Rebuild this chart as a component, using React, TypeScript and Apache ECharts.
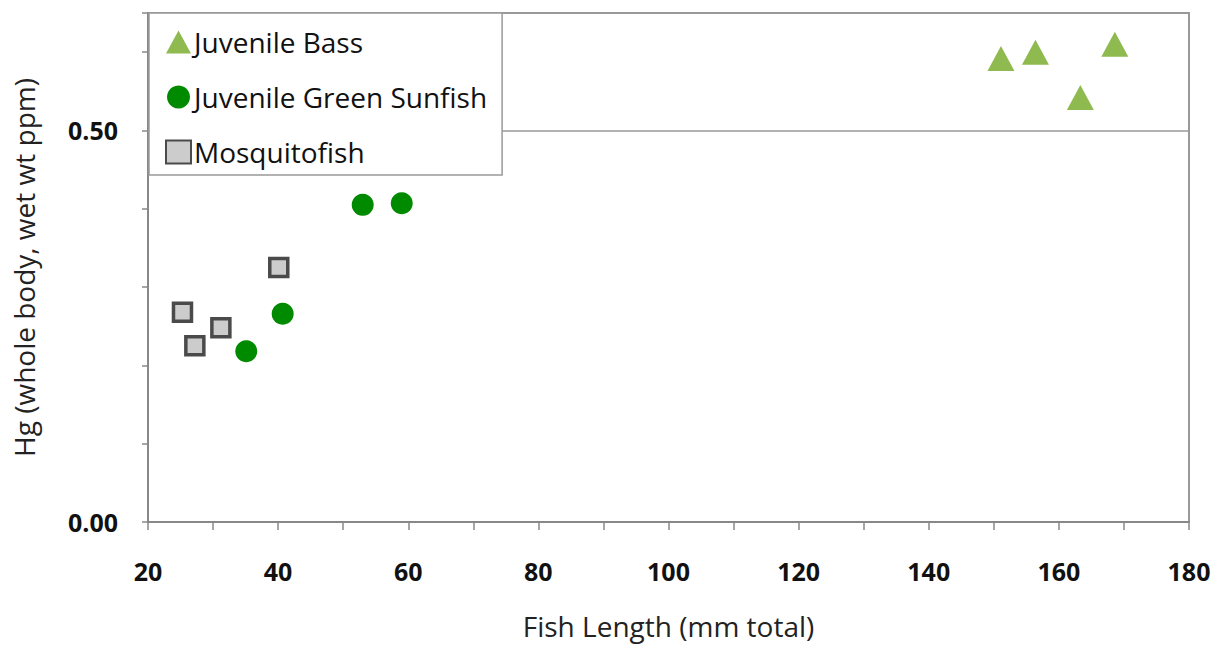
import React, { useEffect, useRef } from "react";
import * as echarts from "echarts";

// Fish length (mm total) and whole-body Hg (wet wt ppm) per specimen
const bassLength = [151.1, 156.4, 163.3, 168.6];
const bassHg = [0.592, 0.6, 0.542, 0.61];

const sunfishLength = [53.0, 59.0, 40.7, 35.1];
const sunfishHg = [0.405, 0.407, 0.266, 0.218];

const mosquitoLength = [25.3, 27.2, 31.2, 40.1];
const mosquitoHg = [0.268, 0.225, 0.248, 0.325];

const seriesNames = ["Juvenile Bass", "Juvenile Green Sunfish", "Mosquitofish"];
const yLabelTicks = [0, 0.5];
const xLabelStep = 20;

const FONT = "'Open Sans', 'Liberation Sans', sans-serif";

const pairs = (xs: number[], ys: number[]) => xs.map((x, i) => [x, ys[i]]);

export default function App() {
  const ref = useRef<HTMLDivElement>(null);

  useEffect(() => {
    if (!ref.current) return;
    const chart = echarts.init(ref.current, undefined, { renderer: "svg" });
    chart.setOption({
      animation: false,
      backgroundColor: "#ffffff",
      textStyle: { fontFamily: FONT },
      grid: {
        left: 148,
        right: 41,
        top: 13,
        bottom: 123,
        show: true,
        borderColor: "#999999",
        borderWidth: 2,
        backgroundColor: "transparent",
      },
      legend: {
        orient: "vertical",
        left: 149,
        top: 13,
        data: [
          { name: seriesNames[0], icon: "triangle" },
          { name: seriesNames[1], icon: "circle" },
          { name: seriesNames[2], icon: "rect" },
        ],
        itemWidth: 25,
        itemHeight: 23,
        itemGap: 25,
        padding: [14, 15, 8, 16],
        backgroundColor: "#ffffff",
        borderColor: "#999999",
        borderWidth: 1.5,
        textStyle: {
          fontSize: 28,
          lineHeight: 30,
          color: "#111111",
          fontFamily: FONT,
          padding: [0, 0, 0, -2],
        },
        z: 10,
      },
      xAxis: {
        type: "value",
        min: 20,
        max: 180,
        interval: 10,
        name: "Fish Length (mm total)",
        nameLocation: "middle",
        nameGap: 90,
        nameTextStyle: { fontSize: 28, color: "#222222", fontFamily: FONT },
        axisLine: { show: true, lineStyle: { color: "#888888", width: 2 } },
        axisTick: { show: true, length: 8, lineStyle: { color: "#888888", width: 1.5 } },
        splitLine: { show: false },
        axisLabel: {
          margin: 36,
          fontSize: 25,
          fontWeight: "bold",
          color: "#111111",
          fontFamily: FONT,
          formatter: (v: number) => (Math.abs(v % xLabelStep) < 1e-9 ? String(v) : ""),
        },
      },
      yAxis: {
        type: "value",
        min: 0,
        max: 0.65,
        interval: 0.1,
        name: "Hg (whole body, wet wt ppm)",
        nameLocation: "middle",
        nameGap: 110,
        nameTextStyle: { fontSize: 28, color: "#222222", fontFamily: FONT },
        axisLine: { show: true, lineStyle: { color: "#888888", width: 2 } },
        axisTick: { show: true, length: 6, lineStyle: { color: "#888888", width: 1.5 } },
        splitLine: { show: false },
        axisLabel: {
          margin: 30,
          fontSize: 25,
          fontWeight: "bold",
          color: "#111111",
          fontFamily: FONT,
          formatter: (v: number) =>
            yLabelTicks.some((t) => Math.abs(t - v) < 1e-9) ? v.toFixed(2) : "",
        },
      },
      series: [
        {
          name: seriesNames[0],
          type: "scatter",
          symbol: "triangle",
          symbolSize: [27, 25],
          itemStyle: { color: "#8fba50", opacity: 1 },
          data: pairs(bassLength, bassHg),
          z: 3,
          markLine: {
            silent: true,
            symbol: "none",
            label: { show: false },
            lineStyle: { color: "#999999", width: 1.5, type: "solid" },
            data: [{ yAxis: 0.5 }],
          },
        },
        {
          name: seriesNames[1],
          type: "scatter",
          symbol: "circle",
          symbolSize: 22,
          itemStyle: { color: "#008a00", opacity: 1 },
          data: pairs(sunfishLength, sunfishHg),
          z: 3,
        },
        {
          name: seriesNames[2],
          type: "scatter",
          symbol: "rect",
          symbolSize: 18,
          itemStyle: { color: "#cccccc", borderColor: "#4a4a4a", borderWidth: 3.5, opacity: 1 },
          data: pairs(mosquitoLength, mosquitoHg),
          z: 3,
        },
      ],
    });
    return () => chart.dispose();
  }, []);

  return (
    <div
      ref={ref}
      style={{ position: "fixed", left: 0, top: 0, width: 1230, height: 645 }}
    />
  );
}
